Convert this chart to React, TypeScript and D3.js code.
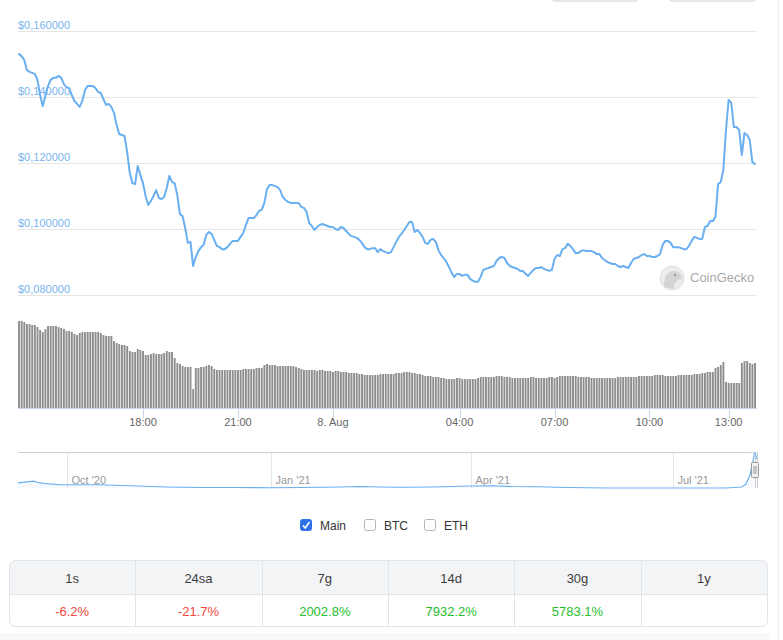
import React from 'react'
import * as d3 from 'd3'

// price (USD), one point every 5 minutes from 7 Aug 14:05
const prices = [
  0.1530, 0.1524, 0.1512, 0.1482, 0.1476, 0.1473, 0.1470, 0.1452, 0.1406, 0.1373,
  0.1403, 0.1433, 0.1452, 0.1458, 0.1458, 0.1464, 0.1458, 0.1439, 0.1430, 0.1427,
  0.1406, 0.1388, 0.1379, 0.1370, 0.1388, 0.1421, 0.1433, 0.1433, 0.1433, 0.1427,
  0.1415, 0.1412, 0.1394, 0.1376, 0.1379, 0.1370, 0.1352, 0.1315, 0.1288, 0.1285,
  0.1282, 0.1233, 0.1170, 0.1139, 0.1136, 0.1191, 0.1164, 0.1139, 0.1100, 0.1073,
  0.1085, 0.1100, 0.1118, 0.1094, 0.1091, 0.1097, 0.1124, 0.1161, 0.1142, 0.1139,
  0.1103, 0.1045, 0.1039, 0.1003, 0.0958, 0.0961, 0.0888, 0.0915, 0.0933, 0.0945,
  0.0952, 0.0982, 0.0991, 0.0985, 0.0967, 0.0949, 0.0945, 0.0939, 0.0939, 0.0945,
  0.0955, 0.0964, 0.0964, 0.0964, 0.0976, 0.0988, 0.1012, 0.1033, 0.1033, 0.1033,
  0.1042, 0.1055, 0.1058, 0.1079, 0.1121, 0.1133, 0.1133, 0.1130, 0.1127, 0.1118,
  0.1097, 0.1088, 0.1082, 0.1079, 0.1079, 0.1079, 0.1079, 0.1067, 0.1064, 0.1052,
  0.1018, 0.1009, 0.0997, 0.1006, 0.1012, 0.1015, 0.1012, 0.1009, 0.1006, 0.1006,
  0.1000, 0.0997, 0.1006, 0.1003, 0.0994, 0.0985, 0.0979, 0.0976, 0.0973, 0.0967,
  0.0958, 0.0945, 0.0939, 0.0939, 0.0942, 0.0942, 0.0930, 0.0939, 0.0933, 0.0930,
  0.0927, 0.0930, 0.0945, 0.0961, 0.0976, 0.0985, 0.0997, 0.1009, 0.1021, 0.1021,
  0.0991, 0.0997, 0.0988, 0.0976, 0.0958, 0.0955, 0.0967, 0.0970, 0.0961, 0.0936,
  0.0921, 0.0912, 0.0900, 0.0885, 0.0867, 0.0855, 0.0864, 0.0864, 0.0858, 0.0861,
  0.0861, 0.0849, 0.0843, 0.0840, 0.0840, 0.0855, 0.0876, 0.0879, 0.0882, 0.0885,
  0.0888, 0.0903, 0.0912, 0.0915, 0.0912, 0.0897, 0.0888, 0.0885, 0.0882, 0.0879,
  0.0873, 0.0873, 0.0864, 0.0858, 0.0867, 0.0876, 0.0882, 0.0882, 0.0885, 0.0879,
  0.0876, 0.0873, 0.0876, 0.0909, 0.0921, 0.0918, 0.0939, 0.0942, 0.0955, 0.0949,
  0.0939, 0.0927, 0.0927, 0.0933, 0.0936, 0.0933, 0.0933, 0.0933, 0.0930, 0.0924,
  0.0924, 0.0912, 0.0906, 0.0900, 0.0897, 0.0894, 0.0894, 0.0888, 0.0885, 0.0888,
  0.0885, 0.0882, 0.0897, 0.0909, 0.0912, 0.0915, 0.0921, 0.0924, 0.0918, 0.0918,
  0.0915, 0.0915, 0.0918, 0.0924, 0.0952, 0.0964, 0.0964, 0.0958, 0.0945, 0.0945,
  0.0945, 0.0942, 0.0939, 0.0939, 0.0949, 0.0964, 0.0976, 0.0973, 0.0970, 0.0970,
  0.1006, 0.1009, 0.1024, 0.1024, 0.1036, 0.1136, 0.1142, 0.1179, 0.1300, 0.1391,
  0.1382, 0.1309, 0.1309, 0.1300, 0.1224, 0.1291, 0.1285, 0.1270, 0.1203, 0.1197,
]

// volume, same points
const volumes = [
  87, 87, 86, 84, 84, 83, 83, 81, 78, 76,
  79, 82, 82, 82, 82, 81, 80, 79, 77, 77,
  76, 74, 73, 75, 76, 76, 76, 76, 76, 76,
  76, 75, 73, 72, 72, 72, 67, 65, 64, 63,
  63, 62, 57, 56, 56, 59, 58, 57, 53, 53,
  54, 55, 54, 54, 54, 55, 57, 56, 56, 50,
  45, 44, 42, 41, 41, 41, 19, 40, 40, 41,
  41, 42, 43, 42, 39, 38, 38, 38, 38, 38,
  38, 38, 38, 38, 38, 39, 39, 39, 39, 39,
  40, 40, 40, 43, 44, 43, 43, 43, 42, 42,
  42, 42, 42, 42, 42, 41, 40, 39, 38, 38,
  38, 38, 38, 37, 38, 38, 37, 37, 37, 36,
  37, 37, 36, 36, 36, 35, 35, 35, 35, 34,
  34, 33, 33, 33, 33, 33, 33, 34, 34, 34,
  34, 34, 34, 35, 35, 35, 36, 36, 36, 35,
  35, 34, 34, 33, 32, 32, 32, 31, 31, 31,
  30, 30, 29, 29, 29, 29, 30, 30, 29, 29,
  29, 29, 29, 29, 30, 31, 31, 31, 31, 31,
  31, 32, 32, 32, 31, 31, 31, 30, 30, 30,
  30, 30, 30, 30, 31, 31, 30, 30, 30, 30,
  30, 31, 31, 30, 31, 32, 32, 32, 32, 32,
  32, 32, 31, 31, 31, 31, 31, 30, 30, 30,
  30, 30, 30, 30, 30, 30, 30, 31, 31, 31,
  31, 31, 31, 31, 31, 32, 32, 32, 32, 32,
  32, 33, 33, 33, 33, 32, 32, 32, 32, 32,
  33, 33, 33, 33, 33, 33, 34, 34, 34, 35,
  35, 36, 36, 36, 40, 41, 43, 46, 26, 25,
  25, 25, 25, 25, 45, 47, 47, 45, 44, 45,
]

const START = Date.UTC(2021, 7, 7, 14, 5)
const STEP = 5 * 60 * 1000
const GAP_AFTER = 263 // no data between 12:00 and 12:35
const GAP_STEPS = 6
const times = prices.map((_, i) => START + (i + (i > GAP_AFTER ? GAP_STEPS : 0)) * STEP)

const priceTicks = [0.08, 0.1, 0.12, 0.14, 0.16]
const timeTicks = [
  { label: '18:00', t: Date.UTC(2021, 7, 7, 18) },
  { label: '21:00', t: Date.UTC(2021, 7, 7, 21) },
  { label: '8. Aug', t: Date.UTC(2021, 7, 8, 0) },
  { label: '04:00', t: Date.UTC(2021, 7, 8, 4) },
  { label: '07:00', t: Date.UTC(2021, 7, 8, 7) },
  { label: '10:00', t: Date.UTC(2021, 7, 8, 10) },
  { label: '13:00', t: Date.UTC(2021, 7, 8, 13) },
]

// navigator (whole history)
const navDates = [
  '2020-09-09', '2020-09-13', '2020-09-16', '2020-09-19', '2020-09-23', '2020-09-28',
  '2020-10-15', '2020-10-30', '2020-11-15', '2020-12-01', '2020-12-15', '2021-01-01',
  '2021-01-15', '2021-02-01', '2021-02-10', '2021-02-20', '2021-03-01', '2021-03-15',
  '2021-04-01', '2021-04-10', '2021-04-20', '2021-05-01', '2021-05-15', '2021-06-01',
  '2021-06-15', '2021-07-01', '2021-07-15', '2021-07-25', '2021-08-01', '2021-08-03',
  '2021-08-05', '2021-08-07', '2021-08-08',
]
const navPrices = [
  0.030, 0.034, 0.037, 0.030, 0.026, 0.023,
  0.023, 0.019, 0.014, 0.012, 0.012, 0.011,
  0.012, 0.014, 0.016, 0.014, 0.013, 0.014,
  0.018, 0.019, 0.016, 0.015, 0.012, 0.010,
  0.010, 0.010, 0.010, 0.010, 0.014, 0.025,
  0.066, 0.153, 0.125,
]
const navTicks = [
  { label: "Oct '20", d: '2020-10-01' },
  { label: "Jan '21", d: '2021-01-01' },
  { label: "Apr '21", d: '2021-04-01' },
  { label: "Jul '21", d: '2021-07-01' },
]

const legendItems = [
  { name: 'Main', checked: true },
  { name: 'BTC', checked: false },
  { name: 'ETH', checked: false },
]

const periods = ['1s', '24sa', '7g', '14d', '30g', '1y']
const changes: (number | null)[] = [-6.2, -21.7, 2002.8, 7932.2, 5783.1, null]

const FONT = '"Liberation Sans", Arial, Helvetica, sans-serif'
const LINE = '#6aaff0'

export default function App() {
  const n = prices.length
  const x = d3.scaleLinear().domain([0, n - 1]).range([19, 755])
  const y = d3.scaleLinear().domain([0.08, 0.16]).range([295, 31])
  const yVol = d3.scaleLinear().domain([0, 100]).range([408, 308])

  const line = d3
    .line<number>()
    .x((d, i) => x(i))
    .y((d) => y(d))

  // navigator
  const parse = d3.utcParse('%Y-%m-%d')
  const navX = d3
    .scaleUtc()
    .domain([parse('2020-09-09') as Date, parse('2021-08-08') as Date])
    .range([18, 757])
  const navY = d3
    .scaleLinear()
    .domain(d3.extent(navPrices) as [number, number])
    .range([488, 452])
  const navLine = d3
    .line<number>()
    .x((d, i) => navX(parse(navDates[i]) as Date))
    .y((d) => navY(d))
  const navArea = d3
    .area<number>()
    .x((d, i) => navX(parse(navDates[i]) as Date))
    .y0(488)
    .y1((d) => navY(d))

  const fmtPrice = (v: number) => '$' + v.toFixed(6).replace('.', ',')

  // table
  const col = d3.scaleBand().domain(periods).range([9, 767])

  // legend layout
  const legendX = d3.scaleOrdinal<string, number>().domain(legendItems.map((d) => d.name)).range([300, 364, 424])

  return (
    <svg
      width={783}
      height={640}
      style={{ position: 'absolute', left: 0, top: 0, fontFamily: FONT }}
    >
      <rect width={783} height={640} fill="#fff" />
      <rect x={0} y={633} width={770} height={7} fill="#f7f8f9" />
      <line x1={778.5} x2={778.5} y1={0} y2={640} stroke="#ececec" />

      {/* range buttons cut off at the top */}
      <rect x={552.5} y={-10} width={85} height={11} rx={2} fill="#fff" stroke="#cfcfcf" />
      <rect x={669.5} y={-10} width={86} height={11} rx={2} fill="#fff" stroke="#cfcfcf" />

      {/* grid + y labels */}
      {priceTicks.map((t) => (
        <g key={t}>
          <line x1={18} x2={757} y1={Math.round(y(t)) + 0.5} y2={Math.round(y(t)) + 0.5} stroke="#e6e6e6" />
          <text x={18} y={y(t) - 2} fontSize={11} fill="#7ab4ee">
            {fmtPrice(t)}
          </text>
        </g>
      ))}

      {/* watermark */}
      <g>
        <circle cx={672} cy={278} r={12} fill="#ececec" stroke="#e0e0e0" />
        <path d="M664,287 C664,278 666,272 673,271 C679,271 682,275 682,279 L678,280 C676,281 674,283 674,289 Z" fill="#d4d4d4" />
        <circle cx={675} cy={275} r={1.2} fill="#9a9a9a" />
        <text x={690} y={282} fontSize={13} fill="#a9a9a9">
          CoinGecko
        </text>
      </g>

      {/* price line */}
      <path d={line(prices) ?? ''} fill="none" stroke={LINE} strokeWidth={2} strokeLinejoin="round" strokeLinecap="round" />

      {/* volume */}
      {volumes.map((v, i) => (
        <rect key={i} x={x(i) - 0.9} y={yVol(v)} width={1.9} height={408 - yVol(v)} fill="#8e8e8e" />
      ))}

      {/* x axis */}
      <line x1={18} x2={757} y1={408.5} y2={408.5} stroke="#ccd6eb" />
      {timeTicks.map((tk) => {
        const xi = x(times.indexOf(tk.t))
        return (
          <g key={tk.label}>
            <line x1={Math.round(xi) + 0.5} x2={Math.round(xi) + 0.5} y1={408} y2={418} stroke="#ccd6eb" />
            <text x={xi} y={426} fontSize={11} fill="#666" textAnchor="middle">
              {tk.label}
            </text>
          </g>
        )
      })}

      {/* navigator */}
      <g>
        {navTicks.map((tk) => {
          const xv = Math.round(navX(parse(tk.d) as Date)) + 0.5
          return (
            <g key={tk.label}>
              <line x1={xv} x2={xv} y1={452} y2={488} stroke="#e6e6e6" />
              <text x={xv + 4} y={484} fontSize={11} fill="#999">
                {tk.label}
              </text>
            </g>
          )
        })}
        <path d={navArea(navPrices) ?? ''} fill={LINE} fillOpacity={0.06} />
        <path d={navLine(navPrices) ?? ''} fill="none" stroke={LINE} strokeWidth={1.2} />
        <path d="M18,452.5 H751 Q755.5,452.5 755.5,457 V488" fill="none" stroke="#cfcfcf" />
        <line x1={757.5} x2={757.5} y1={452} y2={488} stroke="#cfcfcf" />
        <rect x={751.5} y={462.5} width={7} height={15} rx={1} fill="#f2f2f2" stroke="#999" />
        <line x1={754} x2={754} y1={466} y2={474} stroke="#999" />
        <line x1={756} x2={756} y1={466} y2={474} stroke="#999" />
      </g>

      {/* legend */}
      {legendItems.map((it) => {
        const lx = legendX(it.name)
        return (
          <g key={it.name}>
            <rect
              x={lx + 0.5}
              y={519.5}
              width={11}
              height={11}
              rx={2}
              fill={it.checked ? '#2f6fe8' : '#fff'}
              stroke={it.checked ? '#2f6fe8' : '#b5b5b5'}
            />
            {it.checked && (
              <path d={`M${lx + 3},${525.5} L${lx + 5.2},${528} L${lx + 9.5},${522}`} fill="none" stroke="#fff" strokeWidth={1.6} />
            )}
            <text x={lx + 20} y={529.5} fontSize={12} fill="#333">
              {it.name}
            </text>
          </g>
        )
      })}

      {/* period table */}
      <defs>
        <clipPath id="tbl">
          <rect x={9.5} y={560.5} width={758} height={66} rx={6} />
        </clipPath>
      </defs>
      <g clipPath="url(#tbl)">
        <rect x={9} y={560} width={759} height={34} fill="#f3f4f6" />
      </g>
      <rect x={9.5} y={560.5} width={758} height={66} rx={6} fill="none" stroke="#e1e4e8" />
      <line x1={9} x2={768} y1={594.5} y2={594.5} stroke="#e1e4e8" />
      {periods.map((p, i) => {
        const cx = (col(p) as number) + col.bandwidth() / 2
        const v = changes[i]
        return (
          <g key={p}>
            {i > 0 && (
              <line
                x1={Math.round(col(p) as number) + 0.5}
                x2={Math.round(col(p) as number) + 0.5}
                y1={560}
                y2={627}
                stroke="#e1e4e8"
              />
            )}
            <text x={cx} y={582.5} fontSize={13} fill="#3d3d3d" textAnchor="middle">
              {p}
            </text>
            {v !== null && (
              <text x={cx} y={615.5} fontSize={13} fill={v < 0 ? '#f2483b' : '#25c02c'} textAnchor="middle">
                {v.toFixed(1) + '%'}
              </text>
            )}
          </g>
        )
      })}
    </svg>
  )
}
